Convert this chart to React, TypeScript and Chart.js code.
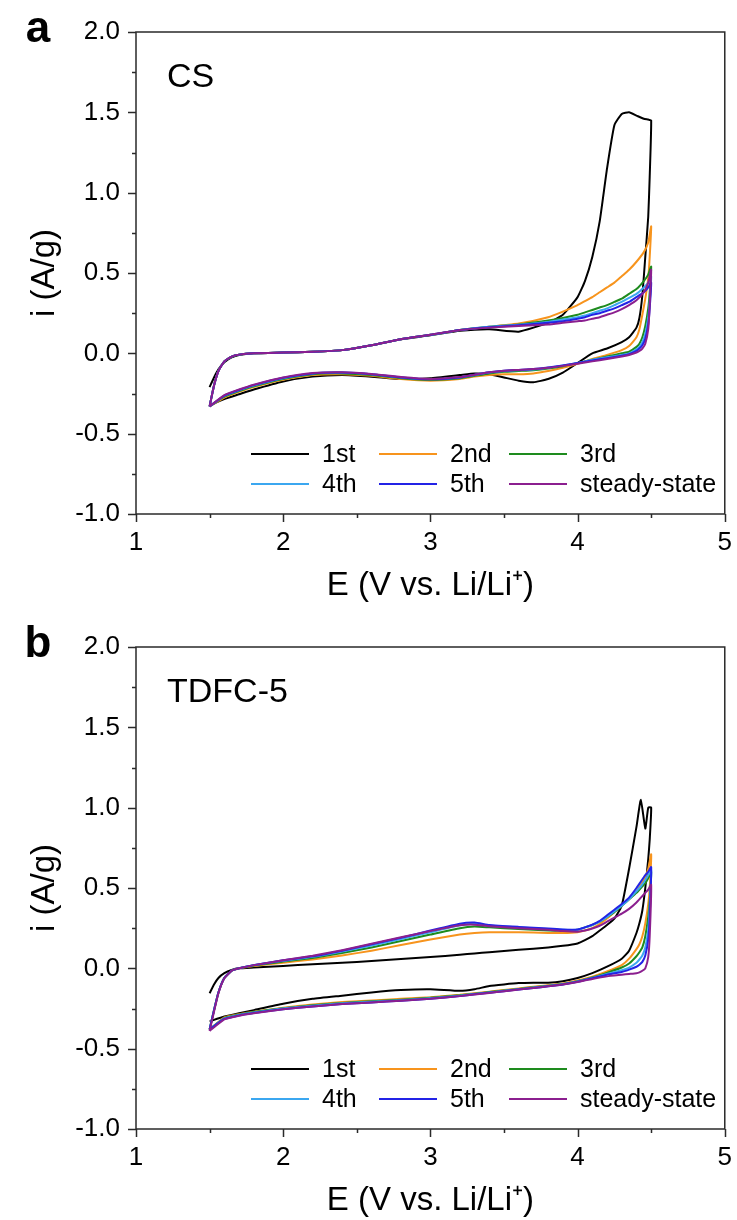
import React, { useEffect, useRef } from 'react';
import { Chart, registerables } from 'chart.js';

Chart.register(...registerables);

// ---------- shared labels / styles ----------
const SERIES_LABELS = ['1st', '2nd', '3rd', '4th', '5th', 'steady-state'];
const SERIES_COLORS = ['#000000', '#F7941D', '#1E8B1E', '#3BA7F0', '#2323E6', '#8B1F8F'];

const X_MAJOR = [1, 2, 3, 4, 5];
const X_MINOR = [1.5, 2.5, 3.5, 4.5];
const Y_MAJOR = [-1.0, -0.5, 0.0, 0.5, 1.0, 1.5, 2.0];
const Y_MINOR = [-0.75, -0.25, 0.25, 0.75, 1.25, 1.75];

const X_TITLE = 'E (V vs. Li/Li\u207A)';
const Y_TITLE = 'i (A/g)';

// ---------- panel a: CS ----------
const CS_ANODIC_E = [1.5, 1.53, 1.56, 1.6, 1.65, 1.7, 1.8, 2.0, 2.2, 2.4, 2.6, 2.8, 3.0, 3.2, 3.4, 3.6, 3.8, 3.9, 4.0, 4.05, 4.1, 4.15, 4.2, 4.25, 4.3, 4.35, 4.4, 4.45, 4.48, 4.5];
const CS_CATHODIC_E = [4.49, 4.48, 4.46, 4.44, 4.42, 4.4, 4.35, 4.3, 4.2, 4.1, 4.0, 3.9, 3.8, 3.7, 3.6, 3.5, 3.4, 3.3, 3.2, 3.0, 2.8, 2.6, 2.4, 2.2, 2.0, 1.8, 1.7, 1.6, 1.5];

const CS_1ST_UP = [-0.21, -0.15, -0.1, -0.055, -0.025, -0.01, 0.0, 0.005, 0.01, 0.02, 0.05, 0.088, 0.112, 0.14, 0.15, 0.135, 0.19, 0.24, 0.35, 0.45, 0.6, 0.82, 1.15, 1.42, 1.49, 1.5, 1.48, 1.46, 1.455, 1.45];
const CS_2ND_UP = [-0.33, -0.2, -0.11, -0.05, -0.02, -0.008, 0.0, 0.005, 0.01, 0.02, 0.05, 0.088, 0.115, 0.145, 0.165, 0.185, 0.225, 0.26, 0.3, 0.325, 0.35, 0.38, 0.41, 0.44, 0.48, 0.52, 0.57, 0.63, 0.69, 0.79];
const CS_3RD_UP = [-0.33, -0.2, -0.11, -0.05, -0.02, -0.008, 0.0, 0.005, 0.01, 0.02, 0.05, 0.088, 0.115, 0.145, 0.165, 0.18, 0.205, 0.22, 0.24, 0.255, 0.27, 0.285, 0.3, 0.32, 0.34, 0.37, 0.4, 0.45, 0.49, 0.54];
const CS_4TH_UP = [-0.33, -0.2, -0.11, -0.05, -0.02, -0.008, 0.0, 0.005, 0.01, 0.02, 0.05, 0.088, 0.115, 0.145, 0.165, 0.178, 0.195, 0.21, 0.225, 0.235, 0.25, 0.265, 0.28, 0.3, 0.32, 0.345, 0.37, 0.41, 0.44, 0.48];
const CS_5TH_UP = [-0.33, -0.2, -0.11, -0.05, -0.02, -0.008, 0.0, 0.005, 0.01, 0.02, 0.05, 0.088, 0.115, 0.145, 0.163, 0.175, 0.19, 0.2, 0.215, 0.225, 0.24, 0.25, 0.265, 0.28, 0.3, 0.32, 0.35, 0.38, 0.41, 0.44];
const CS_SS_UP = [-0.33, -0.2, -0.11, -0.05, -0.02, -0.008, 0.0, 0.005, 0.01, 0.02, 0.05, 0.088, 0.115, 0.145, 0.16, 0.17, 0.18, 0.19, 0.2, 0.205, 0.215, 0.225, 0.24, 0.255, 0.275, 0.3, 0.33, 0.38, 0.44, 0.52];

const CS_1ST_DOWN = [1.1, 0.85, 0.6, 0.36, 0.22, 0.16, 0.1, 0.07, 0.03, 0.0, -0.06, -0.12, -0.16, -0.18, -0.17, -0.15, -0.13, -0.125, -0.135, -0.155, -0.16, -0.145, -0.135, -0.145, -0.175, -0.225, -0.255, -0.285, -0.325];
const CS_2ND_DOWN = [0.6, 0.47, 0.34, 0.24, 0.15, 0.1, 0.045, 0.02, -0.01, -0.035, -0.065, -0.09, -0.11, -0.125, -0.13, -0.13, -0.135, -0.145, -0.16, -0.17, -0.16, -0.14, -0.13, -0.135, -0.165, -0.21, -0.24, -0.275, -0.33];
const CS_3RD_DOWN = [0.38, 0.28, 0.17, 0.1, 0.06, 0.04, 0.01, 0.0, -0.02, -0.04, -0.06, -0.08, -0.095, -0.105, -0.11, -0.115, -0.125, -0.14, -0.155, -0.165, -0.155, -0.135, -0.125, -0.13, -0.16, -0.205, -0.235, -0.27, -0.33];
const CS_4TH_DOWN = [0.32, 0.22, 0.12, 0.07, 0.04, 0.025, 0.0, -0.01, -0.025, -0.04, -0.06, -0.075, -0.09, -0.1, -0.105, -0.11, -0.12, -0.135, -0.15, -0.16, -0.15, -0.13, -0.12, -0.125, -0.155, -0.2, -0.23, -0.265, -0.33];
const CS_5TH_DOWN = [0.28, 0.18, 0.09, 0.05, 0.03, 0.015, -0.005, -0.015, -0.03, -0.045, -0.06, -0.075, -0.088, -0.098, -0.103, -0.108, -0.118, -0.133, -0.15, -0.162, -0.15, -0.13, -0.12, -0.125, -0.152, -0.198, -0.228, -0.263, -0.33];
const CS_SS_DOWN = [0.3, 0.15, 0.06, 0.03, 0.015, 0.005, -0.01, -0.02, -0.035, -0.05, -0.065, -0.078, -0.09, -0.098, -0.103, -0.108, -0.118, -0.133, -0.148, -0.16, -0.148, -0.128, -0.118, -0.123, -0.15, -0.195, -0.225, -0.26, -0.33];

// ---------- panel b: TDFC-5 ----------
const TD_ANODIC_E = [1.5, 1.53, 1.56, 1.6, 1.65, 1.7, 1.8, 2.0, 2.2, 2.4, 2.6, 2.8, 3.0, 3.2, 3.3, 3.4, 3.6, 3.8, 3.9, 4.0, 4.05, 4.1, 4.15, 4.2, 4.25, 4.3, 4.35, 4.4, 4.43, 4.46, 4.48, 4.5];
const TD_CATHODIC_E = [4.49, 4.48, 4.46, 4.44, 4.42, 4.4, 4.35, 4.3, 4.2, 4.1, 4.0, 3.9, 3.8, 3.7, 3.6, 3.5, 3.4, 3.3, 3.2, 3.0, 2.8, 2.6, 2.4, 2.2, 2.0, 1.8, 1.7, 1.6, 1.5];

const TD_1ST_UP = [-0.155, -0.1, -0.06, -0.03, -0.01, 0.0, 0.005, 0.015, 0.025, 0.035, 0.045, 0.058, 0.07, 0.085, 0.093, 0.1, 0.115, 0.13, 0.14, 0.155, 0.175, 0.2, 0.235, 0.27, 0.31, 0.39, 0.62, 0.88, 1.05, 0.87, 1.0, 1.0];
const TD_2ND_UP = [-0.38, -0.26, -0.15, -0.06, -0.015, 0.0, 0.015, 0.035, 0.055, 0.08, 0.11, 0.145, 0.18, 0.21, 0.22, 0.225, 0.225, 0.22, 0.22, 0.225, 0.235, 0.25, 0.275, 0.31, 0.35, 0.39, 0.43, 0.48, 0.52, 0.57, 0.62, 0.71];
const TD_3RD_UP = [-0.38, -0.26, -0.15, -0.06, -0.015, 0.0, 0.018, 0.042, 0.065, 0.095, 0.13, 0.17, 0.21, 0.25, 0.26, 0.255, 0.245, 0.235, 0.235, 0.24, 0.255, 0.27, 0.29, 0.32, 0.35, 0.39, 0.43, 0.47, 0.5, 0.53, 0.56, 0.6];
const TD_4TH_UP = [-0.38, -0.26, -0.15, -0.06, -0.015, 0.0, 0.02, 0.047, 0.072, 0.105, 0.142, 0.183, 0.225, 0.268, 0.278, 0.265, 0.255, 0.245, 0.24, 0.24, 0.255, 0.27, 0.29, 0.32, 0.355, 0.39, 0.43, 0.48, 0.51, 0.55, 0.58, 0.61];
const TD_5TH_UP = [-0.38, -0.26, -0.15, -0.06, -0.015, 0.0, 0.02, 0.05, 0.075, 0.11, 0.15, 0.19, 0.235, 0.278, 0.285, 0.27, 0.258, 0.248, 0.242, 0.242, 0.255, 0.272, 0.295, 0.33, 0.365, 0.4, 0.44, 0.5, 0.54, 0.58, 0.6, 0.63];
const TD_SS_UP = [-0.39, -0.27, -0.155, -0.062, -0.015, 0.0, 0.02, 0.05, 0.078, 0.113, 0.153, 0.193, 0.232, 0.268, 0.272, 0.262, 0.25, 0.24, 0.232, 0.228, 0.235, 0.248, 0.265, 0.29, 0.315, 0.34, 0.37, 0.41, 0.44, 0.47, 0.49, 0.52];

const TD_1ST_DOWN = [0.8, 0.68, 0.5, 0.36, 0.28, 0.22, 0.11, 0.06, 0.01, -0.03, -0.06, -0.08, -0.09, -0.09, -0.092, -0.1, -0.11, -0.13, -0.14, -0.13, -0.135, -0.15, -0.17, -0.19, -0.22, -0.26, -0.28, -0.3, -0.33];
const TD_2ND_DOWN = [0.5, 0.4, 0.28, 0.2, 0.15, 0.12, 0.06, 0.02, -0.02, -0.052, -0.076, -0.095, -0.105, -0.115, -0.125, -0.135, -0.145, -0.155, -0.165, -0.18, -0.19, -0.2, -0.21, -0.225, -0.245, -0.27, -0.285, -0.305, -0.38];
const TD_3RD_DOWN = [0.42, 0.32, 0.2, 0.13, 0.1, 0.075, 0.03, 0.005, -0.028, -0.057, -0.08, -0.097, -0.108, -0.118, -0.128, -0.138, -0.148, -0.158, -0.168, -0.183, -0.195, -0.205, -0.215, -0.23, -0.248, -0.272, -0.288, -0.31, -0.38];
const TD_4TH_DOWN = [0.38, 0.24, 0.13, 0.08, 0.055, 0.035, 0.005, -0.012, -0.035, -0.06, -0.082, -0.099, -0.11, -0.12, -0.13, -0.14, -0.15, -0.16, -0.17, -0.186, -0.198, -0.208, -0.218, -0.233, -0.25, -0.275, -0.29, -0.312, -0.38];
const TD_5TH_DOWN = [0.32, 0.18, 0.08, 0.04, 0.022, 0.01, -0.008, -0.023, -0.04, -0.062, -0.084, -0.1, -0.112, -0.122, -0.132, -0.142, -0.152, -0.162, -0.173, -0.19, -0.202, -0.212, -0.222, -0.237, -0.254, -0.278, -0.293, -0.315, -0.38];
const TD_SS_DOWN = [0.2, 0.07, 0.0, -0.015, -0.025, -0.03, -0.035, -0.04, -0.05, -0.066, -0.085, -0.1, -0.112, -0.122, -0.132, -0.143, -0.153, -0.163, -0.173, -0.19, -0.202, -0.212, -0.222, -0.237, -0.255, -0.28, -0.295, -0.318, -0.39];

const FONT = '"Liberation Sans", Arial, Helvetica, sans-serif';
const AXIS_COLOR = '#2a2a2a';

function makeLoop(upE: number[], up: number[], downE: number[], down: number[]) {
  const pts = upE.map((e, k) => ({ x: e, y: up[k] }));
  return pts.concat(downE.map((e, k) => ({ x: e, y: down[k] })));
}

function makePlugin(letter: string, sample: string) {
  return {
    id: 'cvDecor',
    afterDraw(chart: any) {
      const { ctx, chartArea: a, scales } = chart;
      const xs = scales.x;
      const ys = scales.y;
      ctx.save();
      // frame
      ctx.strokeStyle = AXIS_COLOR;
      ctx.lineWidth = 1.5;
      ctx.strokeRect(a.left, a.top, a.right - a.left, a.bottom - a.top);
      // ticks
      ctx.beginPath();
      X_MAJOR.forEach((v) => {
        const p = Math.round(xs.getPixelForValue(v)) + 0.5;
        ctx.moveTo(p, a.bottom);
        ctx.lineTo(p, a.bottom + 8);
      });
      X_MINOR.forEach((v) => {
        const p = Math.round(xs.getPixelForValue(v)) + 0.5;
        ctx.moveTo(p, a.bottom);
        ctx.lineTo(p, a.bottom + 4);
      });
      Y_MAJOR.forEach((v) => {
        const p = Math.round(ys.getPixelForValue(v)) + 0.5;
        ctx.moveTo(a.left, p);
        ctx.lineTo(a.left - 8, p);
      });
      Y_MINOR.forEach((v) => {
        const p = Math.round(ys.getPixelForValue(v)) + 0.5;
        ctx.moveTo(a.left, p);
        ctx.lineTo(a.left - 4, p);
      });
      ctx.stroke();

      ctx.fillStyle = '#000';
      // axis titles
      ctx.font = `33px ${FONT}`;
      ctx.textAlign = 'center';
      ctx.textBaseline = 'middle';
      ctx.fillText(X_TITLE, (a.left + a.right) / 2, a.bottom + 72);
      ctx.save();
      ctx.translate(45, (a.top + a.bottom) / 2);
      ctx.rotate(-Math.PI / 2);
      ctx.fillText(Y_TITLE, 0, 0);
      ctx.restore();

      // panel letter
      ctx.font = `bold 44px ${FONT}`;
      ctx.textAlign = 'center';
      ctx.textBaseline = 'alphabetic';
      ctx.fillText(letter, 38, a.top + 10);

      // sample name
      ctx.font = `34px ${FONT}`;
      ctx.textAlign = 'left';
      ctx.fillText(sample, a.left + 31, a.top + 55);

      // legend (3 columns x 2 rows)
      const colLine = [251, 379, 509];
      const colText = [322, 450, 580];
      const rowY = [a.bottom - 60, a.bottom - 30];
      ctx.font = `25px ${FONT}`;
      ctx.textBaseline = 'middle';
      chart.data.datasets.forEach((ds: any, k: number) => {
        const r = Math.floor(k / 3);
        const c = k % 3;
        ctx.strokeStyle = ds.borderColor;
        ctx.lineWidth = 2;
        ctx.beginPath();
        ctx.moveTo(colLine[c], rowY[r]);
        ctx.lineTo(colLine[c] + 58, rowY[r]);
        ctx.stroke();
        ctx.fillText(ds.label, colText[c], rowY[r] + 1);
      });
      ctx.restore();
    },
  };
}

type PanelProps = {
  top: number;
  padTop: number;
  letter: string;
  sample: string;
  upE: number[];
  downE: number[];
  ups: number[][];
  downs: number[][];
};

function CVPanel({ top, padTop, letter, sample, upE, downE, ups, downs }: PanelProps) {
  const ref = useRef<HTMLCanvasElement | null>(null);
  useEffect(() => {
    if (!ref.current) return;
    const H = 610;
    const areaBottom = padTop + 482;
    const datasets = SERIES_LABELS.map((label, k) => ({
      label,
      data: makeLoop(upE, ups[k], downE, downs[k]),
      borderColor: SERIES_COLORS[k],
      backgroundColor: SERIES_COLORS[k],
      borderWidth: 2,
      pointRadius: 0,
      showLine: true,
      tension: 0.15,
      fill: false,
      order: SERIES_LABELS.length - k,
    }));
    const chart = new Chart(ref.current, {
      type: 'scatter',
      data: { datasets },
      options: {
        responsive: false,
        devicePixelRatio: 1,
        animation: false,
        layout: { padding: { top: padTop, right: 12, left: 0, bottom: 0 } },
        plugins: { legend: { display: false }, tooltip: { enabled: false } },
        scales: {
          x: {
            type: 'linear',
            min: 1,
            max: 5,
            afterFit: (s: any) => {
              s.height = H - areaBottom;
            },
            afterBuildTicks: (s: any) => {
              s.ticks = X_MAJOR.map((v) => ({ value: v }));
            },
            ticks: {
              color: '#000',
              font: { family: FONT, size: 26 },
              padding: 5,
              maxRotation: 0,
              autoSkip: false,
              callback: (v: any) => String(v),
            },
            grid: { display: true, drawOnChartArea: false, drawTicks: true, tickLength: 8, color: 'rgba(0,0,0,0)' },
            border: { display: false },
          },
          y: {
            type: 'linear',
            min: -1,
            max: 2,
            afterFit: (s: any) => {
              s.width = 136;
            },
            afterBuildTicks: (s: any) => {
              s.ticks = Y_MAJOR.map((v) => ({ value: v }));
            },
            ticks: {
              color: '#000',
              font: { family: FONT, size: 26 },
              padding: 8,
              autoSkip: false,
              callback: (v: any) => Number(v).toFixed(1),
            },
            grid: { display: true, drawOnChartArea: false, drawTicks: true, tickLength: 8, color: 'rgba(0,0,0,0)' },
            border: { display: false },
          },
        },
      },
      plugins: [makePlugin(letter, sample)],
    } as any);
    return () => chart.destroy();
  }, []);
  return (
    <canvas
      ref={ref}
      width={737}
      height={610}
      style={{ position: 'absolute', left: 0, top, width: 737, height: 610, display: 'block' }}
    />
  );
}

export default function App() {
  return (
    <div style={{ position: 'absolute', left: 0, top: 0, width: 737, height: 1220, background: '#fff' }}>
      <CVPanel
        top={0}
        padTop={32}
        letter="a"
        sample="CS"
        upE={CS_ANODIC_E}
        downE={CS_CATHODIC_E}
        ups={[CS_1ST_UP, CS_2ND_UP, CS_3RD_UP, CS_4TH_UP, CS_5TH_UP, CS_SS_UP]}
        downs={[CS_1ST_DOWN, CS_2ND_DOWN, CS_3RD_DOWN, CS_4TH_DOWN, CS_5TH_DOWN, CS_SS_DOWN]}
      />
      <CVPanel
        top={610}
        padTop={37}
        letter="b"
        sample="TDFC-5"
        upE={TD_ANODIC_E}
        downE={TD_CATHODIC_E}
        ups={[TD_1ST_UP, TD_2ND_UP, TD_3RD_UP, TD_4TH_UP, TD_5TH_UP, TD_SS_UP]}
        downs={[TD_1ST_DOWN, TD_2ND_DOWN, TD_3RD_DOWN, TD_4TH_DOWN, TD_5TH_DOWN, TD_SS_DOWN]}
      />
    </div>
  );
}
